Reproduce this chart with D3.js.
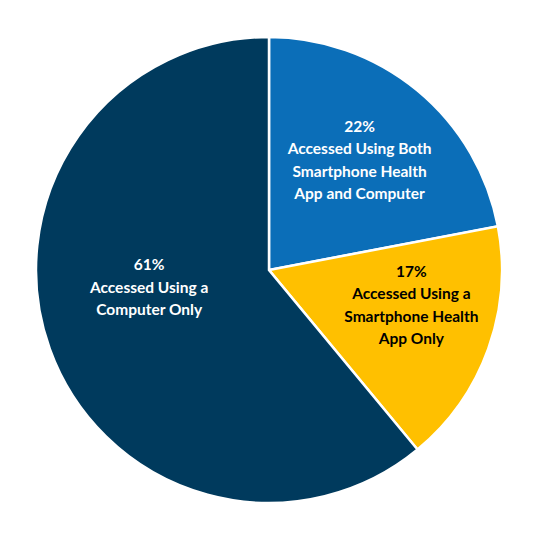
<!DOCTYPE html>
<html><head><meta charset="utf-8">
<script src="https://cdn.jsdelivr.net/npm/d3@7"></script>
<style>body{margin:0;background:#fff}</style>
</head><body>
<script>
// Chart data
var categories = ["Accessed Using Both|Smartphone Health|App and Computer",
                  "Accessed Using a|Smartphone Health|App Only",
                  "Accessed Using a|Computer Only"];
var values = [22, 17, 61];
var colors = ["#0B6EB8", "#FFC000", "#003A5D"];
var textColors = ["#fff", "#000", "#fff"];

var width = 541, height = 536;
var cx = 269, cy = 270, r = 233;

var svg = d3.select("body").append("svg")
  .attr("width", width).attr("height", height);

var g = svg.append("g").attr("transform", "translate(" + cx + "," + cy + ")");

var pie = d3.pie().sort(null).value(function(d){ return d; });
var arcs = pie(values);
var arc = d3.arc().innerRadius(0).outerRadius(r);

g.selectAll("path").data(arcs).enter().append("path")
  .attr("d", arc)
  .attr("fill", function(d, i){ return colors[i]; })
  .attr("stroke", "#fff").attr("stroke-width", 2.5);

// label radius per slice, tuned to the reference
var labelR = [0.61, 0.63, 0.52];
var angleShift = [0, -0.1, 0.2];

arcs.forEach(function(d, i){
  var a = (d.startAngle + d.endAngle) / 2 + angleShift[i];
  var x = Math.sin(a) * r * labelR[i], y = -Math.cos(a) * r * labelR[i];
  var lines = [values[i] + "%"].concat(categories[i].split("|"));
  var t = g.append("text")
    .attr("text-anchor", "middle")
    .attr("font-family", "Lato, 'Open Sans', sans-serif")
    .attr("font-weight", "bold").attr("font-size", 15.5)
    .attr("fill", textColors[i]);
  var lh = 22.5, y0 = y - (lines.length - 1) * lh / 2 + 5;
  lines.forEach(function(l, j){
    t.append("tspan").attr("x", x).attr("y", y0 + j * lh).text(l);
  });
});
</script>
</body></html>
